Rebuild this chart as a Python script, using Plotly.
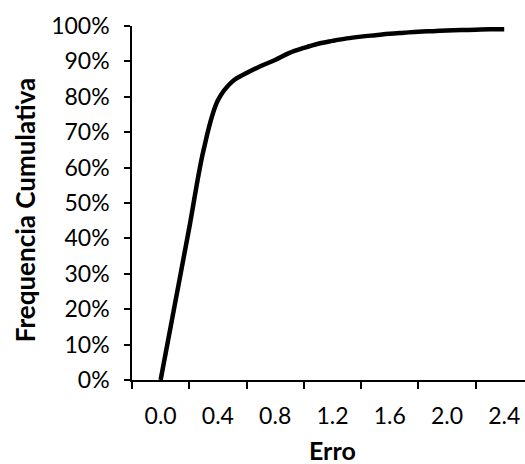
import plotly.graph_objects as go

# Error values (x) and cumulative frequency in percent (y)
erro = [0.0, 0.1, 0.2, 0.3, 0.4, 0.5, 0.6, 0.7, 0.8, 0.9, 1.0, 1.1, 1.2,
        1.3, 1.4, 1.5, 1.6, 1.7, 1.8, 1.9, 2.0, 2.1, 2.2, 2.3, 2.4]
freq_cum = [0.0, 21.5, 43.0, 65.0, 79.0, 84.3, 86.7, 88.7, 90.4, 92.4, 93.8,
            95.0, 95.8, 96.5, 97.0, 97.4, 97.8, 98.1, 98.4, 98.55, 98.7,
            98.85, 98.95, 99.05, 99.1]

x_tick_vals = [0.0, 0.4, 0.8, 1.2, 1.6, 2.0, 2.4]
x_tick_text = ["0.0", "0.4", "0.8", "1.2", "1.6", "2.0", "2.4"]
x_mark_vals = [-0.2, 0.2, 0.6, 1.0, 1.4, 1.8, 2.2]
y_tick_vals = list(range(0, 101, 10))
y_tick_text = [f"{v}%" for v in y_tick_vals]

x_title = "Erro"
y_title = "Frequencia Cumulativa"

FONT = "Lato, Carlito, Calibri, sans-serif"

fig = go.Figure()
fig.add_trace(go.Scatter(
    x=erro, y=freq_cum, mode="lines",
    line=dict(color="#000000", width=4.5, shape="spline", smoothing=1.0),
    showlegend=False, hoverinfo="skip",
))

fig.update_layout(
    width=525, height=464,
    margin=dict(l=132, r=0, t=26, b=84),
    paper_bgcolor="white", plot_bgcolor="white",
    font=dict(family=FONT, size=23, color="#000000"),
    xaxis=dict(
        range=[-0.2, 2.545], automargin=False,
        tickmode="array", tickvals=x_tick_vals, ticktext=x_tick_text,
        ticks="", showgrid=False, zeroline=False,
        showline=True, linecolor="#000000", linewidth=1.5,
        ticklabelstandoff=15,
        minor=dict(tickmode="array", tickvals=x_mark_vals, ticks="outside",
                   ticklen=7, tickwidth=1.5, tickcolor="#000000", showgrid=False),
    ),
    yaxis=dict(
        range=[0, 100], automargin=False,
        tickmode="array", tickvals=y_tick_vals, ticktext=y_tick_text,
        ticks="outside", ticklen=6, tickwidth=1.5, tickcolor="#000000",
        showgrid=False, zeroline=False,
        showline=True, linecolor="#000000", linewidth=1.5,
        ticklabelstandoff=10,
    ),
    annotations=[
        dict(text=f"<b>{x_title}</b>", xref="paper", yref="paper",
             x=0.511, y=-0.197, xanchor="center", yanchor="middle",
             showarrow=False, font=dict(family=FONT, size=25)),
        dict(text=f"<b>{y_title}</b>", xref="paper", yref="paper",
             x=-0.272, y=0.48, xanchor="center", yanchor="middle",
             textangle=-90, showarrow=False, font=dict(family=FONT, size=26)),
    ],
)

fig.write_html("out.html")
